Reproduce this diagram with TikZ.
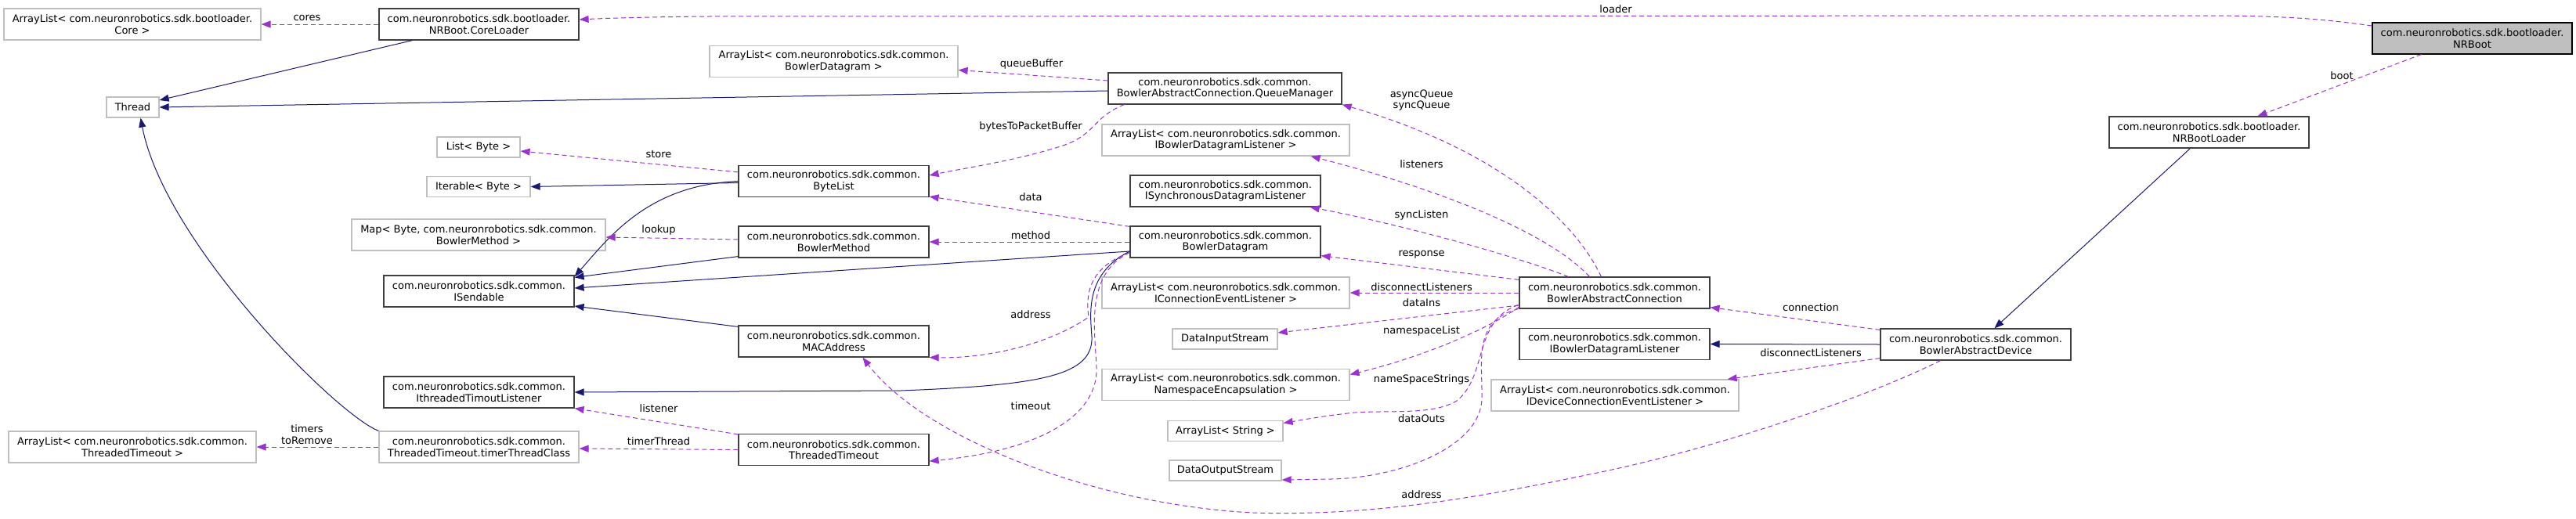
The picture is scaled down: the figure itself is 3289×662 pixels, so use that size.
\documentclass[tikz,border=0pt]{standalone}
\usepackage{fontspec}
\setmainfont{DejaVu Sans}
\usetikzlibrary{arrows.meta,calc}
\definecolor{dxnavy}{HTML}{191970}
\definecolor{dxorchid}{HTML}{9A32CD}
\definecolor{dxgrey}{HTML}{BFBFBF}
\definecolor{dxdark}{HTML}{404040}
\newcommand\dxfont{\fontsize{13}{14.5}\selectfont}
\begin{document}
\begin{tikzpicture}[x=1pt,y=-1pt,
  cls/.style={rectangle, draw=dxdark, line width=1.2pt, fill=white, inner sep=0pt, align=center, font=\dxfont, minimum height=40pt},
  ext/.style={cls, draw=dxgrey},
  one/.style={minimum height=26pt},
  inh/.style={draw=dxnavy, line width=1pt, -{Triangle[length=12pt,width=9pt]}},
  use/.style={draw=dxorchid, line width=1pt, dash pattern=on 6pt off 4pt, -{Triangle[length=12pt,width=9pt]}},
  lbl/.style={inner sep=0pt, align=center, font=\dxfont}]
\useasboundingbox (0,0) rectangle (3289,662);

% ---------- nodes ----------
\node[ext, minimum width=328pt] (arrCore) at (169,31) {ArrayList< com.neuronrobotics.sdk.bootloader.\\Core >};
\node[cls, minimum width=255pt] (coreLoader) at (611.5,31) {com.neuronrobotics.sdk.bootloader.\\NRBoot.CoreLoader};
\node[ext, one, minimum width=67pt] (thread) at (169.5,137) {Thread};
\node[ext, one, minimum width=106pt] (listByte) at (611,188) {List< Byte >};
\node[ext, one, minimum width=132pt] (iterByte) at (611,238.5) {Iterable< Byte >};
\node[ext, minimum width=324pt] (mapByte) at (611,300) {Map< Byte, com.neuronrobotics.sdk.common.\\BowlerMethod >};
\node[cls, minimum width=243pt] (iSendable) at (611.5,372) {com.neuronrobotics.sdk.common.\\ISendable};
\node[cls, minimum width=243pt] (iThreaded) at (611.5,501) {com.neuronrobotics.sdk.common.\\IthreadedTimoutListener};
\node[ext, minimum width=255pt] (timerThread) at (611.5,571) {com.neuronrobotics.sdk.common.\\ThreadedTimeout.timerThreadClass};
\node[ext, minimum width=316pt] (arrTT) at (169,571) {ArrayList< com.neuronrobotics.sdk.common.\\ThreadedTimeout >};
\node[ext, minimum width=317pt] (arrBD) at (1064.5,78.5) {ArrayList< com.neuronrobotics.sdk.common.\\BowlerDatagram >};
\node[cls, minimum width=298pt] (queueMgr) at (1564,113) {com.neuronrobotics.sdk.common.\\BowlerAbstractConnection.QueueManager};
\node[cls, minimum width=243pt] (byteList) at (1064.5,231.5) {com.neuronrobotics.sdk.common.\\ByteList};
\node[cls, minimum width=243pt] (bowlerMethod) at (1064.5,309) {com.neuronrobotics.sdk.common.\\BowlerMethod};
\node[cls, minimum width=243pt] (macAddress) at (1064.5,436) {com.neuronrobotics.sdk.common.\\MACAddress};
\node[cls, minimum width=243pt] (threadedTimeout) at (1064.5,574.5) {com.neuronrobotics.sdk.common.\\ThreadedTimeout};
\node[ext, minimum width=316pt] (arrIBDL) at (1565,179) {ArrayList< com.neuronrobotics.sdk.common.\\IBowlerDatagramListener >};
\node[cls, minimum width=243pt] (iSync) at (1564.5,244) {com.neuronrobotics.sdk.common.\\ISynchronousDatagramListener};
\node[cls, minimum width=243pt] (bowlerDatagram) at (1564.5,309) {com.neuronrobotics.sdk.common.\\BowlerDatagram};
\node[ext, minimum width=316pt] (arrICEL) at (1565,374) {ArrayList< com.neuronrobotics.sdk.common.\\IConnectionEventListener >};
\node[ext, one, minimum width=134pt] (dataIn) at (1564,433) {DataInputStream};
\node[ext, minimum width=316pt] (arrNS) at (1565,491.5) {ArrayList< com.neuronrobotics.sdk.common.\\NamespaceEncapsulation >};
\node[ext, one, minimum width=147pt] (arrString) at (1564.5,550.5) {ArrayList< String >};
\node[ext, one, minimum width=143pt] (dataOut) at (1564.5,601) {DataOutputStream};
\node[cls, minimum width=243pt] (bac) at (2061.5,374) {com.neuronrobotics.sdk.common.\\BowlerAbstractConnection};
\node[cls, minimum width=243pt] (iBDL) at (2061.5,439.5) {com.neuronrobotics.sdk.common.\\IBowlerDatagramListener};
\node[ext, minimum width=316pt] (arrIDCEL) at (2062,505) {ArrayList< com.neuronrobotics.sdk.common.\\IDeviceConnectionEventListener >};
\node[cls, minimum width=243pt] (bad) at (2522.5,440) {com.neuronrobotics.sdk.common.\\BowlerAbstractDevice};
\node[cls, minimum width=255pt] (nrBootLoader) at (2820.5,169) {com.neuronrobotics.sdk.bootloader.\\NRBootLoader};
\node[cls, fill=dxgrey, draw=black, minimum width=255pt] (nrBoot) at (3156.5,49) {com.neuronrobotics.sdk.bootloader.\\NRBoot};

% ---------- inheritance ----------
\draw[inh] ($(coreLoader.south west)+(43,0)$) -- ($(thread.east)+(0,-9)$);
\draw[inh] ($(queueMgr.west)+(0,3)$) -- (thread.east);
\draw[inh] (timerThread.north west) .. controls (430,530) and (210,310) .. ($(thread.south)+(10,0)$);
\draw[inh] ($(byteList.west)+(0,2)$) -- (iterByte.east);
\draw[inh] (byteList.west) .. controls (830,236) and (780,300) .. ($(iSendable.north east)+(0,2)$);
\draw[inh] ($(bowlerMethod.south west)+(0,-2)$) -- ($(iSendable.north east)+(0,3)$);
\draw[inh] ($(bowlerDatagram.west)+(0,12)$) -- ($(iSendable.east)+(0,-4)$);
\draw[inh] ($(macAddress.north west)+(0,2)$) -- ($(iSendable.east)+(0,19)$);
\draw[inh] ($(bowlerDatagram.west)+(0,12)$) .. controls (1385,350) and (1392,400) .. (1394,430) .. controls (1396,480) and (1330,492) .. (1150,499) -- (iThreaded.east);
\draw[inh] (bad.west) -- (iBDL.east);
\draw[inh] ($(nrBootLoader.south west)+(104,0)$) -- ($(bad.north west)+(146,0)$);

% ---------- usage ----------
\draw[use] (coreLoader.west) -- (arrCore.east);
\draw[use] ($(nrBoot.west)+(0,-16)$) .. controls (2950,22) and (2900,20) .. (2800,20) -- (900,21) .. controls (800,22) and (760,24) .. ($(coreLoader.east)+(0,-6)$);
\draw[use] ($(nrBoot.south west)+(63,0)$) -- ($(nrBootLoader.north west)+(190,0)$);
\draw[use] ($(queueMgr.west)+(0,-10)$) -- ($(arrBD.east)+(0,11)$);
\draw[use] ($(queueMgr.south west)+(21,0)$) .. controls (1395,150) and (1400,170) .. (1360,185) .. controls (1300,205) and (1230,215) .. ($(byteList.east)+(0,-7.5)$);
\draw[use] ($(byteList.north west)+(0,9)$) -- ($(listByte.east)+(0,5)$);
\draw[use] ($(bowlerMethod.west)+(0,-3)$) -- ($(mapByte.east)+(0,3)$);
\draw[use] ($(bowlerDatagram.north west)+(0,1)$) -- ($(byteList.south east)+(0,-1)$);
\draw[use] (bowlerDatagram.west) -- (bowlerMethod.east);
\draw[use] ($(bowlerDatagram.south west)+(0,-7)$) .. controls (1395,340) and (1385,370) .. (1390,405) .. controls (1340,440) and (1260,458) .. (macAddress.south east);
\draw[use] ($(bowlerDatagram.south west)+(0,-7)$) .. controls (1385,350) and (1398,420) .. (1400,470) .. controls (1402,530) and (1330,575) .. ($(threadedTimeout.south east)+(0,-6)$);
\draw[use] ($(threadedTimeout.north west)+(0,1)$) -- (iThreaded.south east);
\draw[use] (threadedTimeout.west) -- ($(timerThread.east)+(0,2)$);
\draw[use] (timerThread.west) -- (arrTT.east);
\draw[use] ($(bac.north west)+(105,0)$) .. controls (2010,280) and (1910,190) .. (queueMgr.south east);
\draw[use] ($(bac.north west)+(90,0)$) .. controls (1980,300) and (1850,245) .. ($(arrIBDL.south east)+(-50,0)$);
\draw[use] ($(bac.north west)+(63,0)$) .. controls (1930,325) and (1780,285) .. ($(iSync.south east)+(-14,0)$);
\draw[use] ($(bac.north west)+(0,4)$) -- ($(bowlerDatagram.south east)+(0,-3)$);
\draw[use] (bac.west) -- (arrICEL.east);
\draw[use] ($(bac.west)+(0,16)$) -- ($(dataIn.east)+(0,-8)$);
\draw[use] ($(bac.south west)+(1,-3)$) .. controls (1900,420) and (1820,455) .. ($(arrNS.east)+(0,-13)$);
\draw[use] ($(bac.south west)+(-1,-5)$) .. controls (1880,410) and (1900,480) .. (1860,512) .. controls (1830,530) and (1780,524) .. (1730,527) .. controls (1700,530) and (1670,535) .. ($(arrString.east)+(0,-10)$);
\draw[use] ($(bac.south west)+(-1,0)$) .. controls (1880,410) and (1893,460) .. (1892,510) .. controls (1890,570) and (1790,610) .. (1700,612) -- ($(dataOut.east)+(0,12)$);
\draw[use] ($(bad.north west)+(0,2)$) -- ($(bac.south east)+(0,-2)$);
\draw[use] ($(bad.south west)+(0,-3)$) -- ($(arrIDCEL.north east)+(-15,0)$);
\draw[use] ($(bad.south west)+(77,0)$) .. controls (2380,510) and (2180,575) .. (2044,603) .. controls (1900,633) and (1760,660) .. (1600,655) .. controls (1400,645) and (1180,560) .. ($(macAddress.south west)+(159,0)$);

% ---------- labels ----------
\node[lbl] (lCores) at (392,23) {cores};
\node[lbl] (lLoader) at (2063,12) {loader};
\node[lbl] (lBoot) at (2990,97) {boot};
\node[lbl] (lQueueBuffer) at (1317,82) {queueBuffer};
\node[lbl] (lBytes) at (1316,162) {bytesToPacketBuffer};
\node[lbl] (lStore) at (841,197) {store};
\node[lbl] (lLookup) at (841,294) {lookup};
\node[lbl] (lData) at (1316,252) {data};
\node[lbl] (lMethod) at (1316,301) {method};
\node[lbl] (lAddress) at (1316,402) {address};
\node[lbl] (lTimeout) at (1316,519) {timeout};
\node[lbl] (lListener) at (841,522) {listener};
\node[lbl] (lTimerThread) at (841,564) {timerThread};
\node[lbl] (lTimers) at (392,555) {timers\\toRemove};
\node[lbl] (lQueues) at (1815,128) {asyncQueue\\syncQueue};
\node[lbl] (lListeners) at (1815,210) {listeners};
\node[lbl] (lSyncListen) at (1815,275) {syncListen};
\node[lbl] (lResponse) at (1815,325) {response};
\node[lbl] (lDisc) at (1815,367) {disconnectListeners};
\node[lbl] (lDataIns) at (1815,387) {dataIns};
\node[lbl] (lNsList) at (1815,423) {namespaceList};
\node[lbl] (lNsStrings) at (1815,485) {nameSpaceStrings};
\node[lbl] (lDataOuts) at (1815,535) {dataOuts};
\node[lbl] (lAddress2) at (1815,632) {address};
\node[lbl] (lConnection) at (2312,393) {connection};
\node[lbl] (lDisc2) at (2312,451) {disconnectListeners};
\end{tikzpicture}
\end{document}
